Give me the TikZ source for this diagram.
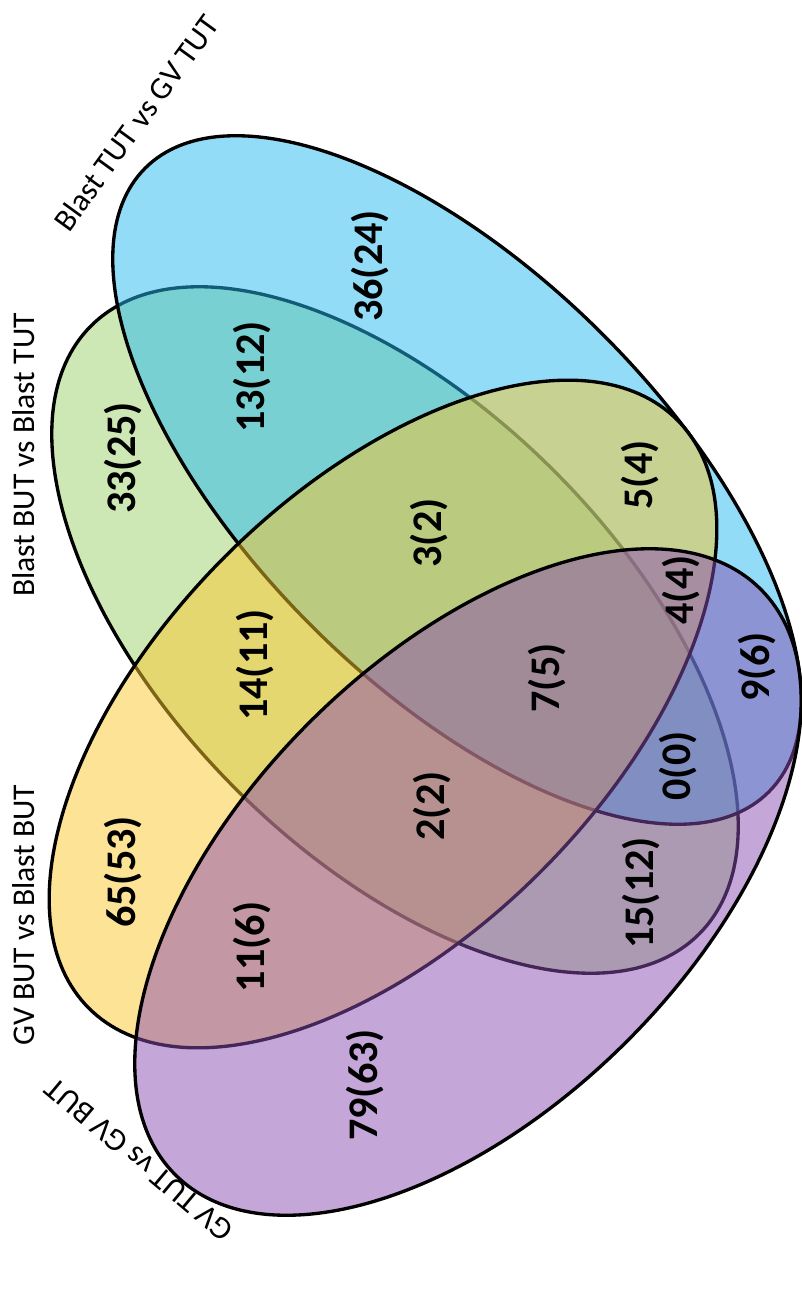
\documentclass[tikz,border=0pt]{standalone}
\usepackage{fontspec}
\setmainfont{Carlito}
\usepackage{tikz}

\definecolor{setblue}{RGB}{37,185,241}
\definecolor{setgreen}{RGB}{155,209,105}
\definecolor{setyellow}{RGB}{251,199,45}
\definecolor{setpurple}{RGB}{137,77,177}

\begin{document}
\begin{tikzpicture}[x=0.02cm, y=0.02cm, line width=1.9pt,
    set/.style={draw=black, fill opacity=0.5},
    count/.style={rotate=90, font=\fontsize{24}{28}\selectfont\bfseries},
    setname/.style={font=\fontsize{18}{22}\selectfont}]
    \useasboundingbox (0,0) rectangle (801,-1300);

    % Sets
    \draw[set, fill=setgreen, rotate around={-45:(395,-630)}] (395,-630) ellipse [x radius=430, y radius=225];
    \draw[set, fill=setblue, rotate around={-45:(457,-480)}] (457,-480) ellipse [x radius=441, y radius=206];
    \draw[set, fill=setyellow, rotate around={45:(383,-714)}] (383,-714) ellipse [x radius=416, y radius=223];
    \draw[set, fill=setpurple, rotate around={45:(468,-882)}] (468,-882) ellipse [x radius=414, y radius=225];

    % Set names
    \node[setname, rotate=54] (nameB) at (136,-123) {Blast TUT vs GV TUT};
    \node[setname, rotate=90] (nameG) at (24,-455) {Blast BUT vs Blast TUT};
    \node[setname, rotate=90] (nameY) at (24,-915) {GV BUT vs Blast BUT};
    \node[setname, rotate=140] (nameP) at (139,-1160) {GV TUT vs GV BUT};

    % Counts
    \node[count] (B) at (370,-266) {36(24)};
    \node[count] (BG) at (252,-377) {13(12)};
    \node[count] (G) at (123,-458) {33(25)};
    \node[count] (GY) at (255,-665) {14(11)};
    \node[count] (BGY) at (429,-533) {3(2)};
    \node[count] (BY) at (640,-475) {5(4)};
    \node[count] (BYP) at (681,-590) {4(4)};
    \node[count] (BGYP) at (547,-678) {7(5)};
    \node[count] (BP) at (757,-667) {9(6)};
    \node[count] (BGP) at (678,-766) {0(0)};
    \node[count] (GYP) at (432,-806) {2(2)};
    \node[count] (GP) at (641,-893) {15(12)};
    \node[count] (Y) at (123,-872) {65(53)};
    \node[count] (YP) at (252,-947) {11(6)};
    \node[count] (P) at (365,-1085) {79(63)};
\end{tikzpicture}
\end{document}
